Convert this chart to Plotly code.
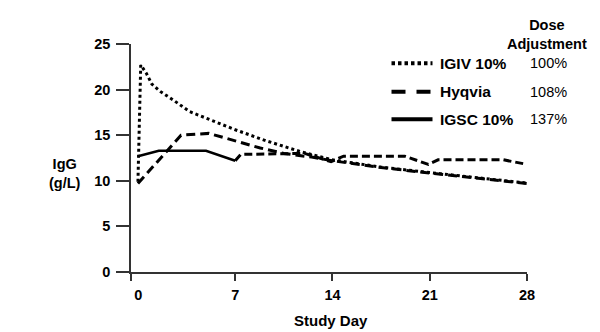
import plotly.graph_objects as go

# ---- data ----
igiv_days = [0, 0.2, 0.6, 1.0, 1.6, 2.5, 3.7, 5.0, 7.0, 9.2, 11.7, 14, 17.5, 21, 24.5, 28]
igiv_vals = [9.9, 22.7, 21.8, 20.6, 19.8, 18.9, 17.6, 16.8, 15.6, 14.4, 13.2, 12.3, 11.5, 10.9, 10.3, 9.75]

hyq_days = [0, 3.1, 5.1, 7.0, 8.8, 10.5, 12.5, 14, 17.5, 21, 24.5, 28]
hyq_vals = [9.7, 15.0, 15.2, 14.4, 13.6, 13.0, 12.6, 12.2, 11.45, 10.85, 10.25, 9.7]

igsc_days = [0, 1.5, 4.9, 7.0, 7.4, 12.0, 13.9, 14.8, 19.2, 20.9, 21.6, 26.3, 28]
igsc_vals = [12.7, 13.3, 13.3, 12.2, 12.9, 13.0, 12.1, 12.7, 12.7, 11.8, 12.3, 12.3, 11.8]
igsc_solid_until = 4  # first points drawn solid, remainder appears dashed in the source

series_names = ["IGIV 10%", "Hyqvia", "IGSC 10%"]
dose_adjust = ["100%", "108%", "137%"]

x_ticks = [-0.5, 7, 14, 21, 28]
x_ticktext = ["\u2002\u20020", "7", "14", "21", "28"]
y_ticks = [0, 5, 10, 15, 20, 25]

BOLD = "Liberation Sans"
fig = go.Figure()

fig.add_trace(go.Scatter(x=igiv_days, y=igiv_vals, mode="lines", name=series_names[0],
                         line=dict(color="black", width=3, dash="3px,3px"), showlegend=False))
fig.add_trace(go.Scatter(x=hyq_days, y=hyq_vals, mode="lines", name=series_names[1],
                         line=dict(color="black", width=3, dash="9px,5px"), showlegend=False))
fig.add_trace(go.Scatter(x=igsc_days[:igsc_solid_until], y=igsc_vals[:igsc_solid_until], mode="lines",
                         name=series_names[2], line=dict(color="black", width=2.6), showlegend=False))
fig.add_trace(go.Scatter(x=igsc_days[igsc_solid_until - 1:], y=igsc_vals[igsc_solid_until - 1:], mode="lines",
                         name=series_names[2], line=dict(color="black", width=3, dash="8px,4px"),
                         showlegend=False))

axis_col = "#333333"
fig.update_xaxes(range=[-0.5, 28], tickvals=x_ticks, ticktext=x_ticktext, showline=True,
                 linecolor=axis_col, linewidth=1.5, ticks="outside", ticklen=7, tickwidth=1.5,
                 tickcolor=axis_col, showgrid=False, zeroline=False, ticklabelstandoff=2,
                 tickfont=dict(family=BOLD, size=14.5, color="black", weight="bold"))
fig.update_yaxes(range=[0, 25], tickvals=y_ticks, showline=True,
                 linecolor=axis_col, linewidth=1.5, ticks="outside", ticklen=13, tickwidth=1.5,
                 tickcolor=axis_col, showgrid=False, zeroline=False, ticklabelstandoff=3,
                 tickfont=dict(family=BOLD, size=14.5, color="black", weight="bold"))

L, R, T, B = 131, 73, 44, 60
W, H = 600, 332
pw, ph = W - L - R, H - T - B


def px(xp):
    return (xp - L) / pw


def py(yp):
    return (H - B - yp) / ph


def note(text, x, y, xanchor="center", size=14.5, align="center"):
    return dict(text=text, x=px(x), y=py(y), xref="paper", yref="paper", xanchor=xanchor,
                yanchor="middle", align=align, showarrow=False,
                font=dict(family=BOLD, size=size, color="black"))


ann = [
    note("<b>Study Day</b>", 331, 320, size=15),
    note("<b>IgG<br>(g/L)</b>", 65, 173),
    note("<b>Dose<br>Adjustment</b>", 547, 34, size=14.5),
]

legend_y = [63.3, 91.7, 119.3]
legend_dash = ["3.5px,3px", "14px,11px", "solid"]
shapes = []
for name, pct, yy, dsh in zip(series_names, dose_adjust, legend_y, legend_dash):
    shapes.append(dict(type="line", xref="paper", yref="paper", x0=px(391.5), x1=px(432.5),
                       y0=py(yy), y1=py(yy), line=dict(color="black", width=4, dash=dsh)))
    ann.append(note(f"<b>{name}</b>", 438, yy, xanchor="left", align="left", size=15.5))
    ann.append(note(pct, 527.5, yy, xanchor="left", align="left", size=14.5))

fig.update_layout(width=W, height=H, margin=dict(l=L, r=R, t=T, b=B),
                  paper_bgcolor="white", plot_bgcolor="white",
                  annotations=ann, shapes=shapes, showlegend=False)

fig.write_html("out.html")
